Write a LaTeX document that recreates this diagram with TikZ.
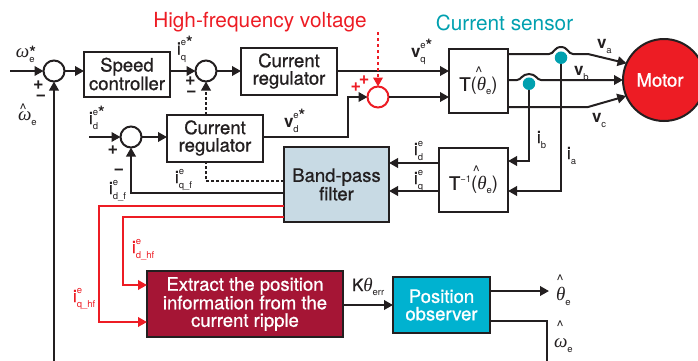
\documentclass[tikz,border=0pt]{standalone}
\usepackage{fontspec}
\setmainfont{TeX Gyre Heros}
\newfontfamily\grk{Liberation Serif}
\newfontfamily\medf{TeX Gyre Heros}[FakeBold=0.9]
\usetikzlibrary{arrows.meta,calc}
\definecolor{ink}{HTML}{231F20}
\definecolor{hfred}{HTML}{ED1C24}
\definecolor{sensor}{HTML}{00A0AF}
\definecolor{bpf}{HTML}{C8DAE4}
\definecolor{wine}{HTML}{A51535}
\definecolor{obs}{HTML}{00B2D0}
\newcommand\smallf{\fontsize{9.5}{9.5}\selectfont}
\newcommand\SupSub[3]{#1\rlap{\raisebox{9pt}{\smallf #2}}\raisebox{-5.5pt}{\smallf #3}}
\newcommand\ibase{{\medf i}}
\newcommand\vbase{\textbf{v}}
\newcommand\thetaI{{\fontsize{19}{19}\selectfont\grk\itshape θ}}
\newcommand\omegaI{{\fontsize{19}{19}\selectfont\grk\itshape ω}}
\newcommand\starBare{{\fontsize{17}{17}\selectfont\bfseries *}}
\newcommand\starS{\raisebox{-3pt}{\starBare}}
\newcommand\HatOver[2]{\rlap{\hspace{#1}\raisebox{#2}{\fontsize{15}{15}\selectfont\char`\^}}}
\tikzset{
  x=1pt,y=-1pt,
  every node/.style={font=\fontsize{18.5}{17.5}\selectfont,text=ink,inner sep=0pt,outer sep=0pt},
  block/.style={draw=ink,line width=2pt,align=center,fill=white},
  junction/.style={circle,draw=ink,line width=2pt,minimum size=21pt,fill=white},
  hfjunction/.style={circle,draw=hfred,line width=2pt,minimum size=21pt,fill=white},
  dot/.style={circle,fill=sensor,minimum size=12.5pt},
  sig/.style={draw=ink,line width=2pt,-{Triangle[length=9pt,width=9.5pt]}},
  wire/.style={draw=ink,line width=2pt},
  hfsig/.style={draw=hfred,line width=2pt,-{Triangle[length=9pt,width=9.5pt]}},
  lab/.style={anchor=base west,font=\fontsize{17}{17}\selectfont},
  redlab/.style={lab,text=hfred},
  sign/.style={align=center,font=\fontsize{18}{11}\selectfont\bfseries},
}
\begin{document}
\begin{tikzpicture}
\useasboundingbox (0,0) rectangle (698,360);
\clip (0,0) rectangle (698,360);
% nodes
\node[junction] (s1) at (54,71) {};
\node[junction] (s2) at (206,71) {};
\node[junction] (s3) at (131,137) {};
\node[hfjunction] (s4) at (378,97) {};
\node[block,minimum width=86pt,minimum height=45pt] (speed) at (127,74) {{\medf Speed}\\{\medf controller}};
\node[block,minimum width=96pt,minimum height=47pt] (cr1) at (289,71) {{\medf Current}\\{\medf regulator}};
\node[block,minimum width=96pt,minimum height=47pt] (cr2) at (215,138) {{\medf Current}\\{\medf regulator}};
\node[block,fill=bpf,minimum width=105pt,minimum height=75pt] (bp) at (336.5,184.5) {{\medf Band-pass}\\{\medf filter}};
\node[block,minimum width=59pt,minimum height=64pt] (tf) at (478.5,81) {\HatOver{16pt}{13pt}{\medf T}(\thetaI\raisebox{-4pt}{\smallf e})};
\node[block,minimum width=69pt,minimum height=64pt] (ti) at (473.5,180) {\HatOver{24pt}{13pt}{\medf T}\raisebox{7pt}{\smallf −1}(\thetaI\raisebox{-4pt}{\smallf e})};
\node[block,fill=wine,text=white,minimum width=196pt,minimum height=66pt] (ex) at (245,304) {{\medf Extract the position}\\{\medf information from the}\\{\medf current ripple}};
\node[block,fill=obs,text=white,minimum width=97pt,minimum height=56pt] (po) at (441.5,305) {{\medf Position}\\{\medf observer}};
\node[circle,draw=ink,line width=2pt,fill=hfred,text=white,minimum size=82pt] (motor) at (664,80) {};
\node[text=white,font=\fontsize{18.5}{18}\selectfont\medf] (motorlab) at (660,80) {Motor};
% free ends
\coordinate (inw) at (10,71);
\coordinate (inid) at (89,137);
\coordinate (hfin) at (378,32);
\coordinate (fbbottom) at (54,362);
\coordinate (wout) at (547,362);
\coordinate (thout) at (549,291);
% main forward path
\draw[sig] (inw) -- (s1);
\draw[sig] (s1) -- (speed.west |- s1);
\draw[sig] (speed.east |- s2) -- (s2);
\draw[sig] (s2) -- (cr1.west |- s2);
\draw[sig] (inid) -- (s3);
\draw[sig] (s3) -- (cr2.west |- s3);
\draw[sig] (cr1.east |- 0,71) -- (tf.west |- 0,71);
\draw[sig] (cr2.east |- 0,137) -- (348,137) -- (348,97) -- (s4);
\draw[sig] (s4) -- (tf.west |- s4);
% feedback
\draw[sig] (fbbottom) -- (s1);
\draw[sig] (bp.west |- 0,193) -- (131,193) -- (s3);
\draw[wire,densely dashed] (bp.west |- 0,181) -- (206,181) -- (cr2.south -| 206,0);
\draw[sig,densely dashed] (cr2.north -| 206,0) -- (s2);
\draw[hfsig,dashed] (hfin) -- (s4);
% phases
\coordinate (ta) at (tf.east |- 0,54);
\coordinate (tb) at (tf.east |- 0,80);
\coordinate (tc) at (tf.east |- 0,107);
\draw[sig] (ta) -- (549,54) .. controls (554,54) and (554,47) .. (561,47) .. controls (568,47) and (568,54) .. (573,54) -- (588,54) -- (motor.156);
\draw[sig] (tb) -- (517,80) .. controls (521,80) and (522,74) .. (529,74) .. controls (536,74) and (537,80) .. (541,80) -- (motor.west |- 0,80);
\draw[sig] (tc) -- (588,107) -- (motor.203);
% sensors
\node[dot] (d1) at (561,57.7) {};
\node[dot] (d2) at (529,83.7) {};
\draw[sig] (d1) -- (561,191) -- (ti.east |- 0,191);
\draw[sig] (d2) -- (529,161) -- (ti.east |- 0,161);
\draw[sig] (ti.west |- 0,163) -- (bp.east |- 0,163);
\draw[sig] (ti.west |- 0,191) -- (bp.east |- 0,191);
% red
\draw[hfsig] (bp.west |- 0,206) -- (99,206) -- (99,322) -- (ex.west |- 0,322);
\draw[hfsig] (bp.west |- 0,217) -- (123,217) -- (123,285) -- (ex.west |- 0,285);
% bottom
\draw[sig] (ex.east |- 0,305) -- (po.west |- 0,305);
\draw[sig] (po.east |- thout) -- (thout);
\draw[wire] (po.east |- 0,321) -- (547,321) -- (wout);
% titles
\node[text=hfred,font=\fontsize{20.8}{21}\selectfont] (t1) at (260,22.5) {High-frequency voltage};
\node[text=sensor,font=\fontsize{20.8}{21}\selectfont] (t2) at (504.5,22.5) {Current sensor};
% labels
\node[lab] (l1) at (16,57) {\SupSub{\omegaI}{\raisebox{-10pt}{\starBare}}{e}};
\node[lab] (l2) at (18,120) {\HatOver{1.6pt}{6pt}\SupSub{\omegaI}{}{e}};
\node[lab] (l3) at (177,54.5) {\SupSub{\ibase}{e\starS}{q}};
\node[lab] (l4) at (89,124) {\SupSub{\ibase}{e\starS}{d}};
\node[lab] (l5) at (284,127) {\SupSub{\vbase}{e\starS}{d}};
\node[lab] (l6) at (411,57) {\SupSub{\vbase}{e\starS}{q}};
\node[lab] (l7) at (597,48) {\SupSub{\vbase}{}{a}};
\node[lab] (l8) at (574,75) {\SupSub{\vbase}{}{b}};
\node[lab] (l9) at (592,122) {\SupSub{\vbase}{}{c}};
\node[lab] (l10) at (537,143) {\SupSub{\ibase}{}{b}};
\node[lab] (l11) at (567,159) {\SupSub{\ibase}{}{a}};
\node[lab] (l12) at (414,155) {\SupSub{\ibase}{e}{d}};
\node[lab] (l13) at (414,184) {\SupSub{\ibase}{e}{q}};
\node[lab] (l14) at (175,183) {\SupSub{\ibase}{e}{q\_f}};
\node[lab] (l15) at (109,194) {\SupSub{\ibase}{e}{d\_f}};
\node[redlab] (l16) at (132,253) {\SupSub{\ibase}{e}{d\_hf}};
\node[redlab] (l17) at (73,302) {\SupSub{\ibase}{e}{q\_hf}};
\node[lab] (l18) at (352,291) {{\medf K}\thetaI\raisebox{-4pt}{\smallf err}};
\node[lab] (l19) at (556,300) {\HatOver{0.6pt}{15pt}\SupSub{\thetaI}{}{e}};
\node[lab] (l20) at (554,347) {\HatOver{2.6pt}{16pt}\SupSub{\omegaI}{}{e}};
% signs
\node[sign] (ps1) at (38.5,91) {+\\\hspace{5pt}−};
\node[sign] (ps2) at (190.5,87) {+\\\hspace{2pt}−};
\node[sign] (p3) at (113,150) {+};
\node[sign] (m3) at (119,172) {−};
\node[sign,text=hfred] (ps4) at (360,84) {+\kern-2.5pt\raisebox{7pt}{+}};
\end{tikzpicture}
\end{document}
